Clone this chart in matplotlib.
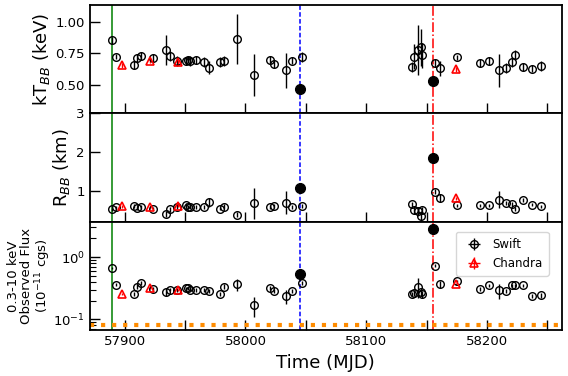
import numpy as np
import matplotlib
matplotlib.use('Agg')
import matplotlib.pyplot as plt
from matplotlib.ticker import MultipleLocator, FixedLocator

# Swift observations
mjd_swift = [57889.8, 57893.0, 57907.5, 57910.0, 57913.8, 57923.0, 57934.5, 57937.4,
             57943.5, 57951.0, 57952.3, 57953.7, 57958.7, 57965.6, 57969.5, 57978.6,
             57982.2, 57993.3, 58007.0, 58020.7, 58023.7, 58033.4, 58038.4, 58046.7,
             58138.3, 58139.2, 58143.3, 58145.3, 58146.6, 58156.6, 58161.2, 58175.3,
             58194.6, 58202.0, 58209.8, 58215.9, 58220.6, 58223.0, 58229.7, 58237.1,
             58244.6]
kt_swift = [0.855, 0.722, 0.656, 0.715, 0.730, 0.715, 0.780, 0.728, 0.690, 0.690,
            0.700, 0.688, 0.696, 0.680, 0.637, 0.682, 0.693, 0.865, 0.578, 0.696,
            0.666, 0.615, 0.693, 0.718, 0.645, 0.723, 0.777, 0.800, 0.736, 0.675,
            0.632, 0.718, 0.675, 0.688, 0.615, 0.637, 0.680, 0.736, 0.642, 0.629,
            0.653]
kt_swift_err = [0.03, 0.02, 0.03, 0.03, 0.03, 0.03, 0.12, 0.04, 0.04, 0.03,
                0.03, 0.04, 0.03, 0.04, 0.05, 0.04, 0.04, 0.20, 0.17, 0.03,
                0.03, 0.14, 0.03, 0.04, 0.04, 0.10, 0.20, 0.15, 0.10, 0.03,
                0.06, 0.02, 0.03, 0.03, 0.13, 0.04, 0.04, 0.04, 0.03, 0.03,
                0.04]
r_swift = [0.527, 0.570, 0.610, 0.560, 0.570, 0.535, 0.405, 0.520, 0.590, 0.640,
           0.590, 0.590, 0.570, 0.590, 0.700, 0.540, 0.590, 0.380, 0.680, 0.580,
           0.600, 0.690, 0.570, 0.600, 0.646, 0.510, 0.465, 0.350, 0.490, 0.980,
           0.810, 0.620, 0.620, 0.620, 0.770, 0.680, 0.650, 0.535, 0.760, 0.640,
           0.600]
r_swift_err = [0.04, 0.04, 0.05, 0.05, 0.05, 0.04, 0.08, 0.06, 0.06, 0.05,
               0.05, 0.06, 0.05, 0.05, 0.12, 0.05, 0.06, 0.06, 0.40, 0.05,
               0.05, 0.30, 0.05, 0.05, 0.06, 0.10, 0.12, 0.12, 0.10, 0.06,
               0.10, 0.04, 0.04, 0.04, 0.22, 0.06, 0.06, 0.05, 0.05, 0.04,
               0.04]
flux_swift = [0.665, 0.357, 0.259, 0.336, 0.380, 0.308, 0.279, 0.300, 0.295, 0.316,
              0.316, 0.300, 0.295, 0.295, 0.282, 0.256, 0.336, 0.370, 0.170, 0.320,
              0.286, 0.238, 0.286, 0.390, 0.253, 0.268, 0.336, 0.270, 0.253, 0.730,
              0.370, 0.415, 0.308, 0.353, 0.294, 0.286, 0.353, 0.353, 0.353, 0.238,
              0.243]
flux_swift_err = [0.03, 0.02, 0.02, 0.03, 0.03, 0.02, 0.04, 0.02, 0.02, 0.02,
                  0.02, 0.02, 0.02, 0.02, 0.02, 0.02, 0.03, 0.08, 0.06, 0.02,
                  0.02, 0.06, 0.02, 0.03, 0.02, 0.03, 0.12, 0.03, 0.03, 0.04,
                  0.05, 0.02, 0.02, 0.02, 0.08, 0.02, 0.02, 0.02, 0.02, 0.02,
                  0.02]

# Chandra observations
mjd_chandra = [57898.0, 57920.7, 57944.3, 58174.7]
kt_chandra = [0.656, 0.690, 0.680, 0.624]
kt_chandra_err = [0.02, 0.02, 0.02, 0.02]
r_chandra = [0.595, 0.570, 0.610, 0.810]
r_chandra_err = [0.03, 0.03, 0.04, 0.04]
flux_chandra = [0.256, 0.320, 0.300, 0.370]
flux_chandra_err = [0.01, 0.01, 0.01, 0.01]

# filled points
mjd_fill = [58045.5, 58155.2]
kt_fill = [0.462, 0.527]
r_fill = [1.06, 1.835]
flux_fill = [0.538, 2.83]

# vertical markers and floor
t_green = 57889.8
t_blue = 58045.5
t_red = 58155.2
flux_floor = 0.08

fig, axes = plt.subplots(3, 1, figsize=(5.68, 3.76), dpi=100, sharex=True)
fig.subplots_adjust(left=0.158, right=0.989, top=0.987, bottom=0.122, hspace=0)

panels = [
    (kt_swift, kt_swift_err, kt_chandra, kt_chandra_err, kt_fill),
    (r_swift, r_swift_err, r_chandra, r_chandra_err, r_fill),
    (flux_swift, flux_swift_err, flux_chandra, flux_chandra_err, flux_fill),
]

for ax, (ys, yse, yc, yce, yf) in zip(axes, panels):
    ax.axvline(t_green, color='green', lw=1.1)
    ax.axvline(t_blue, color='blue', lw=1.1, ls=(0, (3, 1.5)))
    ax.axvline(t_red, color='red', lw=1.1, ls='-.')
    hs = ax.errorbar(mjd_swift, ys, yerr=yse, xerr=np.zeros(len(mjd_swift)), fmt='o',
                     mfc='none', mec='k', ecolor='k', ms=5.5, mew=1.0, elinewidth=1.0,
                     capsize=0, label='Swift', zorder=3)
    hc = ax.errorbar(mjd_chandra, yc, yerr=yce, xerr=np.zeros(len(mjd_chandra)), fmt='^',
                     mfc='none', mec='red', ecolor='red', ms=6, mew=1.2, elinewidth=1.0,
                     capsize=0, label='Chandra', zorder=3)
    ax.plot(mjd_fill, yf, 'o', color='k', ms=7, zorder=4)
    ax.tick_params(direction='in', length=7, width=1, labelsize=9.5)
    ax.tick_params(which='minor', direction='in', length=4, width=0.8)
    for s in ax.spines.values():
        s.set_linewidth(1.3)

ax1, ax2, ax3 = axes
ax1.set_ylim(0.27, 1.14)
ax1.yaxis.set_major_locator(FixedLocator([0.5, 0.75, 1.0]))
ax1.set_ylabel('kT$_{BB}$ (keV)', fontsize=13)
ax1.yaxis.set_label_coords(-0.08, 0.5)

ax2.set_ylim(0.2, 3.0)
ax2.yaxis.set_major_locator(FixedLocator([1, 2, 3]))
ax2.set_ylabel('R$_{BB}$ (km)', fontsize=13)
ax2.yaxis.set_label_coords(-0.038, 0.5)

ax3.set_yscale('log')
ax3.set_ylim(0.067, 3.7)
ax3.axhline(flux_floor, color='darkorange', lw=3, ls=':')
ax3.set_ylabel('0.3-10 keV\nObserved Flux\n(10$^{-11}$ cgs)', fontsize=9.5, linespacing=1.0)
ax3.yaxis.set_label_coords(-0.078, 0.5)
ax3.legend(handles=[hs, hc], loc='upper right', fontsize=8.5, borderpad=0.5,
           handletextpad=0.6, bbox_to_anchor=(0.985, 0.96))

ax3.set_xlim(57871, 58262)
ax3.xaxis.set_major_locator(FixedLocator([57900, 58000, 58100, 58200]))
ax3.xaxis.set_minor_locator(MultipleLocator(50))
for ax in axes:
    ax.tick_params(which='minor', axis='x', length=7, width=1)
ax3.set_xlabel('Time (MJD)', fontsize=13)

fig.savefig('out.png', dpi=100)
